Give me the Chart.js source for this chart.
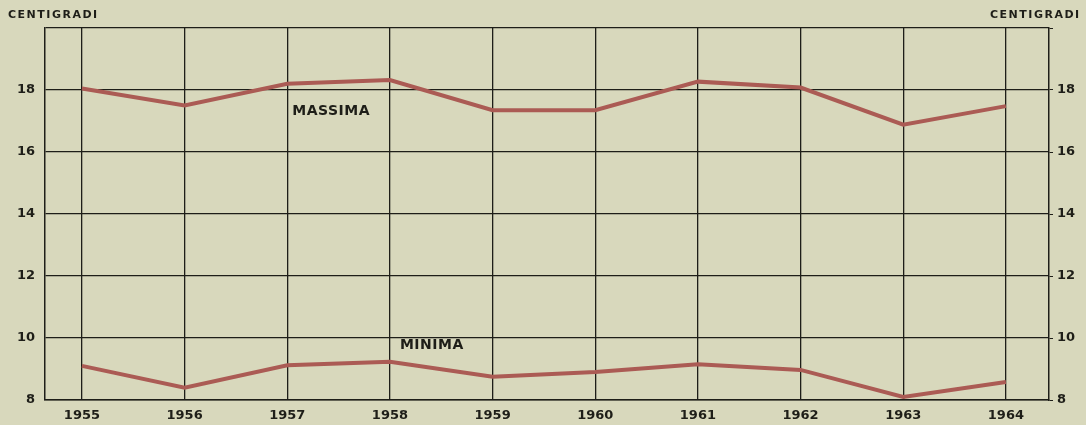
<!DOCTYPE html>
<html>
<head>
<meta charset="utf-8">
<script src="https://cdn.jsdelivr.net/npm/chart.js@4/dist/chart.umd.min.js"></script>
<style>
  html, body { margin: 0; padding: 0; background: #d8d8bc; }
  #wrap { width: 1086px; height: 425px; position: relative; }
</style>
</head>
<body>
<div id="wrap"><canvas id="tempChart" width="1086" height="425"></canvas></div>
<script>
// Temperature data (centigradi)
const years = [1955, 1956, 1957, 1958, 1959, 1960, 1961, 1962, 1963, 1964];
const massima = [18.05, 17.5, 18.2, 18.32, 17.35, 17.35, 18.27, 18.08, 16.88, 17.48];
const minima = [9.1, 8.4, 9.12, 9.23, 8.75, 8.9, 9.15, 8.97, 8.1, 8.58];
const yTicks = [8, 10, 12, 14, 16, 18, 20];

const ink = '#1e1e18';
const lineColor = '#ab5b54';
const tickFont = { size: 13, weight: 'bold', family: '"DejaVu Sans", sans-serif' };

// Paint the paper colour and the free-standing labels
const paperPlugin = {
    id: 'paper',
    beforeDraw(chart) {
        const ctx = chart.ctx;
        ctx.save();
        ctx.fillStyle = '#d8d8bc';
        ctx.fillRect(0, 0, chart.width, chart.height);
        ctx.restore();
    },
    afterDraw(chart) {
        const ctx = chart.ctx;
        const x = chart.scales.x;
        const y = chart.scales.y;
        ctx.save();
        ctx.fillStyle = ink;
        ctx.textBaseline = 'middle';
        ctx.textAlign = 'left';
        ctx.font = 'bold 11px "DejaVu Sans", sans-serif';
        ctx.letterSpacing = '1.5px';
        ctx.fillText('CENTIGRADI', 8, 15);
        ctx.fillText('CENTIGRADI', 990, 15);
        ctx.letterSpacing = '0.5px';
        ctx.font = 'bold 14px "DejaVu Sans", sans-serif';
        ctx.fillText('MASSIMA', x.getPixelForValue(1957) + 5, y.getPixelForValue(17.3));
        ctx.fillText('MINIMA', x.getPixelForValue(1958) + 10, y.getPixelForValue(9.75));
        ctx.restore();
    }
};

new Chart(document.getElementById('tempChart'), {
    type: 'line',
    data: {
        datasets: [
            {
                label: 'Massima',
                data: years.map((yr, i) => ({ x: yr, y: massima[i] })),
                borderColor: lineColor,
                borderWidth: 4,
                pointRadius: 0,
                tension: 0
            },
            {
                label: 'Minima',
                data: years.map((yr, i) => ({ x: yr, y: minima[i] })),
                borderColor: lineColor,
                borderWidth: 4,
                pointRadius: 0,
                tension: 0
            }
        ]
    },
    options: {
        responsive: false,
        animation: false,
        layout: { padding: { top: 28, left: 0, right: 0, bottom: 0 } },
        plugins: {
            legend: { display: false },
            tooltip: { enabled: false }
        },
        scales: {
            x: {
                type: 'linear',
                min: 1954.64,
                max: 1964.42,
                afterBuildTicks: s => { s.ticks = years.map(v => ({ value: v })); },
                afterFit: s => { s.height = 25; },
                grid: { color: ink, lineWidth: 1.3, drawTicks: false },
                border: { color: ink, width: 1.5 },
                ticks: {
                    color: ink,
                    font: tickFont,
                    padding: 8,
                    maxRotation: 0,
                    callback: v => String(v)
                }
            },
            y: {
                position: 'left',
                min: 8,
                max: 20,
                afterBuildTicks: s => { s.ticks = yTicks.map(v => ({ value: v })); },
                afterFit: s => { s.width = 45; },
                grid: { color: ink, lineWidth: 1.3, drawTicks: false },
                border: { color: ink, width: 1.5 },
                ticks: {
                    color: ink,
                    font: tickFont,
                    padding: 10,
                    callback: v => (v === 20 ? '' : String(v))
                }
            },
            y2: {
                position: 'right',
                min: 8,
                max: 20,
                afterBuildTicks: s => { s.ticks = yTicks.map(v => ({ value: v })); },
                afterFit: s => { s.width = 37; },
                grid: { drawOnChartArea: false, color: ink, tickLength: 4 },
                border: { color: ink, width: 1.5 },
                ticks: {
                    color: ink,
                    font: tickFont,
                    padding: 4,
                    callback: v => (v === 20 ? '' : String(v))
                }
            }
        }
    },
    plugins: [paperPlugin]
});
</script>
</body>
</html>
